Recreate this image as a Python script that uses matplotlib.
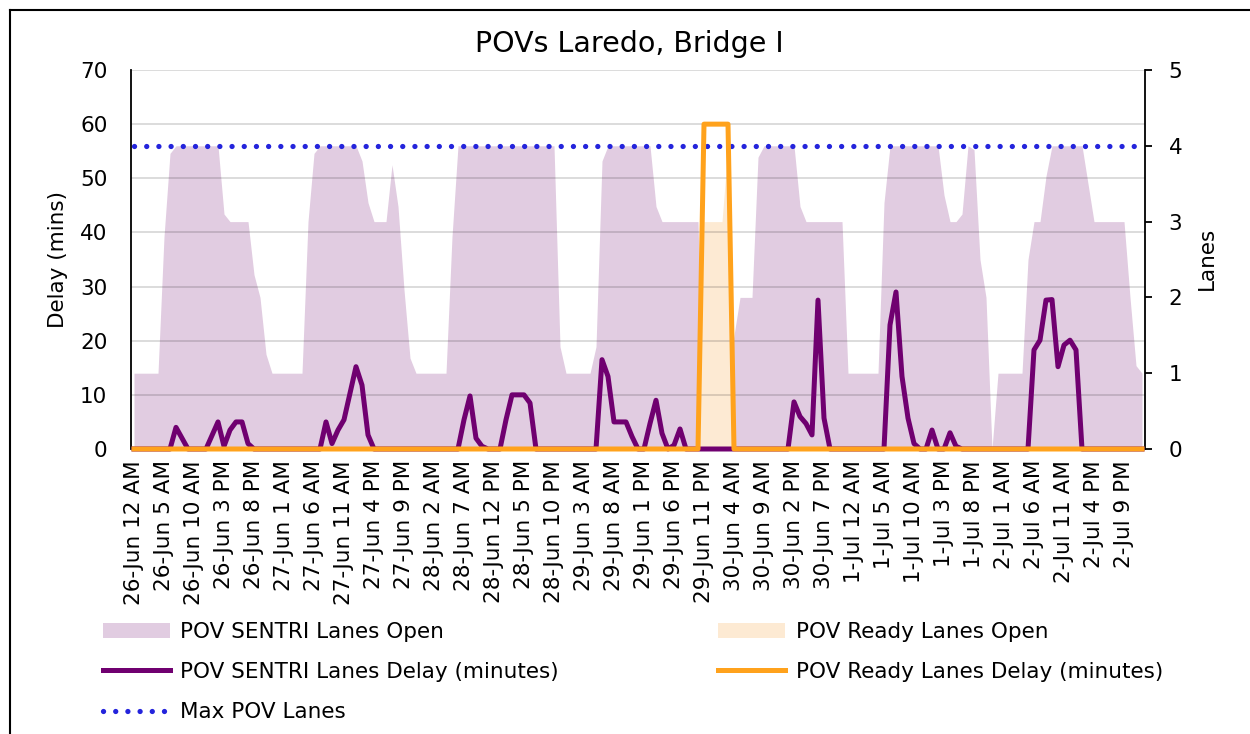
import numpy as np
import matplotlib.pyplot as plt
from matplotlib.lines import Line2D
from matplotlib.patches import Patch

# hourly values, 26-Jun 12 AM .. 3-Jul 12 AM (169 points)
sentri_lanes = [1, 1, 1, 1, 1, 2.8, 3.9, 4, 4, 4, 4, 4, 4, 4, 4, 3.1, 3, 3, 3, 3,
                2.3, 2.0, 1.25, 1, 1, 1, 1, 1, 1, 3.0, 3.9, 4, 4, 4, 4, 4, 4, 4, 3.8, 3.25,
                3, 3, 3, 3.75, 3.2, 2.1, 1.2, 1, 1, 1, 1, 1, 1, 2.8, 4, 4, 4, 4, 4, 4,
                4, 4, 4, 4, 4, 4, 4, 4, 4, 4, 4, 1.35, 1, 1, 1, 1, 1, 1.35, 3.8, 4,
                4, 4, 4, 4, 4, 4, 4, 3.2, 3, 3, 3, 3, 3, 3, 3, 0, 0, 0, 0, 1,
                1.5, 2, 2, 2, 3.85, 4, 4, 4, 4, 4, 4, 3.2, 3, 3, 3, 3, 3, 3, 3, 1,
                1, 1, 1, 1, 1, 3.25, 4, 4, 4, 4, 4, 4, 4, 4, 4, 3.35, 3, 3, 3.1, 4,
                3.95, 2.5, 2.0, 0, 1, 1, 1, 1, 1, 2.5, 3, 3, 3.6, 4, 4, 4, 4, 4, 4, 3.5,
                3, 3, 3, 3, 3, 3, 2.0, 1.1, 1]

ready_lanes = [0] * 95 + [3, 3, 3, 3, 4] + [0] * 69

sentri_delay = [0, 0, 0, 0, 0, 0, 0, 4, 2, 0, 0, 0, 0, 2.5, 5, 0.5, 3.5, 5, 5, 1,
                0, 0, 0, 0, 0, 0, 0, 0, 0, 0, 0, 0, 5, 1, 3.5, 5.4, 10.3, 15.2, 11.8, 2.6,
                0, 0, 0, 0, 0, 0, 0, 0, 0, 0, 0, 0, 0, 0, 0, 5.4, 9.8, 2.0, 0.5, 0,
                0, 0, 5.4, 10, 10, 10, 8.5, 0, 0, 0, 0, 0, 0, 0, 0, 0, 0, 0, 16.5, 13.4,
                5, 5, 5, 2.3, 0, 0, 4.7, 9, 2.9, 0, 0.7, 3.7, 0, 0, 0, 0, 0, 0, 0, 0,
                0, 0, 0, 0, 0, 0, 0, 0, 0, 0, 8.7, 6.0, 4.7, 2.6, 27.5, 5.7, 0, 0, 0, 0,
                0, 0, 0, 0, 0, 0, 22.9, 29, 13.4, 5.7, 1.0, 0, 0, 3.5, 0, 0, 3, 0.5, 0, 0,
                0, 0, 0, 0, 0, 0, 0, 0, 0, 0, 18.3, 20.1, 27.5, 27.6, 15.2, 19.2, 20.1, 18.3, 0, 0,
                0, 0, 0, 0, 0, 0, 0, 0, 0]

ready_delay = [0] * 95 + [60, 60, 60, 60, 60] + [0] * 69

max_pov_lanes = 4

tick_labels = ['26-Jun 12 AM', '26-Jun 5 AM', '26-Jun 10 AM', '26-Jun 3 PM', '26-Jun 8 PM',
               '27-Jun 1 AM', '27-Jun 6 AM', '27-Jun 11 AM', '27-Jun 4 PM', '27-Jun 9 PM',
               '28-Jun 2 AM', '28-Jun 7 AM', '28-Jun 12 PM', '28-Jun 5 PM', '28-Jun 10 PM',
               '29-Jun 3 AM', '29-Jun 8 AM', '29-Jun 1 PM', '29-Jun 6 PM', '29-Jun 11 PM',
               '30-Jun 4 AM', '30-Jun 9 AM', '30-Jun 2 PM', '30-Jun 7 PM', '1-Jul 12 AM',
               '1-Jul 5 AM', '1-Jul 10 AM', '1-Jul 3 PM', '1-Jul 8 PM', '2-Jul 1 AM',
               '2-Jul 6 AM', '2-Jul 11 AM', '2-Jul 4 PM', '2-Jul 9 PM']
tick_step = 5

# colours
c_sentri_area = '#E1CCE1'
c_ready_area = '#FDEAD3'
c_sentri_line = '#700070'
c_ready_line = '#FFA21C'
c_max = '#2424DC'

fs = 15.5
dots = (0, (0.01, 2.3))
hours = np.arange(len(sentri_lanes))

fig = plt.figure(figsize=(12.5, 7.34), dpi=100)
W, H = 1250, 734
ax_lanes = fig.add_axes([131 / W, 1 - 449 / H, (1145 - 131) / W, (449 - 70) / H])
ax_delay = ax_lanes.twinx()
# swap sides: lanes on the right, delay on the left (delay drawn on top)
ax_lanes.yaxis.tick_right()
ax_lanes.yaxis.set_label_position('right')
ax_delay.yaxis.tick_left()
ax_delay.yaxis.set_label_position('left')

ax_lanes.fill_between(hours, sentri_lanes, color=c_sentri_area, lw=0)
ax_lanes.fill_between(hours, ready_lanes, color=c_ready_area, lw=0)
ax_lanes.hlines(max_pov_lanes, hours[0], hours[-1], colors=c_max, lw=3.8,
                linestyles=dots, capstyle='round')

ax_delay.plot(hours, sentri_delay, color=c_sentri_line, lw=3.6,
              solid_joinstyle='round', clip_on=False, zorder=3)
ax_delay.plot(hours, ready_delay, color=c_ready_line, lw=3.6,
              solid_joinstyle='round', clip_on=False, zorder=4)

ax_lanes.set_xlim(-0.5, len(hours) - 0.5)
ax_lanes.set_ylim(0, 5)
ax_delay.set_ylim(0, 70)

ax_delay.set_yticks(np.arange(0, 71, 10))
ax_delay.yaxis.grid(True, color='black', alpha=0.14, lw=1.4)
ax_delay.set_axisbelow(True)
ax_lanes.set_yticks(np.arange(0, 6, 1))

ax_lanes.set_xticks(hours[::tick_step])
ax_lanes.set_xticklabels(tick_labels, rotation=90)

ax_delay.tick_params(axis='y', length=0, pad=17, labelsize=fs)
ax_lanes.tick_params(axis='y', length=5, width=1.3, direction='out', pad=12, labelsize=fs)
ax_lanes.tick_params(axis='x', length=0, pad=8, labelsize=fs)

for s in ['top', 'bottom', 'left']:
    ax_lanes.spines[s].set_visible(False)
for s in ['top', 'bottom', 'right']:
    ax_delay.spines[s].set_visible(False)
ax_lanes.spines['right'].set_linewidth(1.3)
ax_delay.spines['left'].set_linewidth(1.3)

fig.text(629 / W, 1 - 44 / H, 'POVs Laredo, Bridge I', fontsize=20.5, ha='center', va='center')
fig.text(58 / W, 1 - 260 / H, 'Delay (mins)', fontsize=fs, rotation=90, ha='center', va='center')
fig.text(1207 / W, 1 - 258 / H, 'Lanes', fontsize=fs, rotation=90, ha='center', va='center')

handles = [Patch(facecolor=c_sentri_area, lw=0),
           Line2D([], [], color=c_sentri_line, lw=3.6),
           Line2D([], [], color=c_max, lw=3.8, linestyle=dots, dash_capstyle='round'),
           Patch(facecolor=c_ready_area, lw=0),
           Line2D([], [], color=c_ready_line, lw=3.6)]
labels = ['POV SENTRI Lanes Open', 'POV SENTRI Lanes Delay (minutes)', 'Max POV Lanes',
          'POV Ready Lanes Open', 'POV Ready Lanes Delay (minutes)']
fig.legend(handles, labels, loc='upper left', bbox_to_anchor=(103 / W, 1 - 622 / H),
           ncol=2, frameon=False, fontsize=fs, handlelength=3.1, handletextpad=0.5,
           columnspacing=7.4, labelspacing=0.93, borderpad=0, borderaxespad=0)

# chart border (left and top edges)
fig.add_artist(Line2D([9.5 / W, 9.5 / W], [0, 1 - 9.5 / H], transform=fig.transFigure, color='black', lw=1.5))
fig.add_artist(Line2D([9.5 / W, 1], [1 - 9.5 / H, 1 - 9.5 / H], transform=fig.transFigure, color='black', lw=1.5))

fig.savefig('out.png', dpi=100)
plt.close()
